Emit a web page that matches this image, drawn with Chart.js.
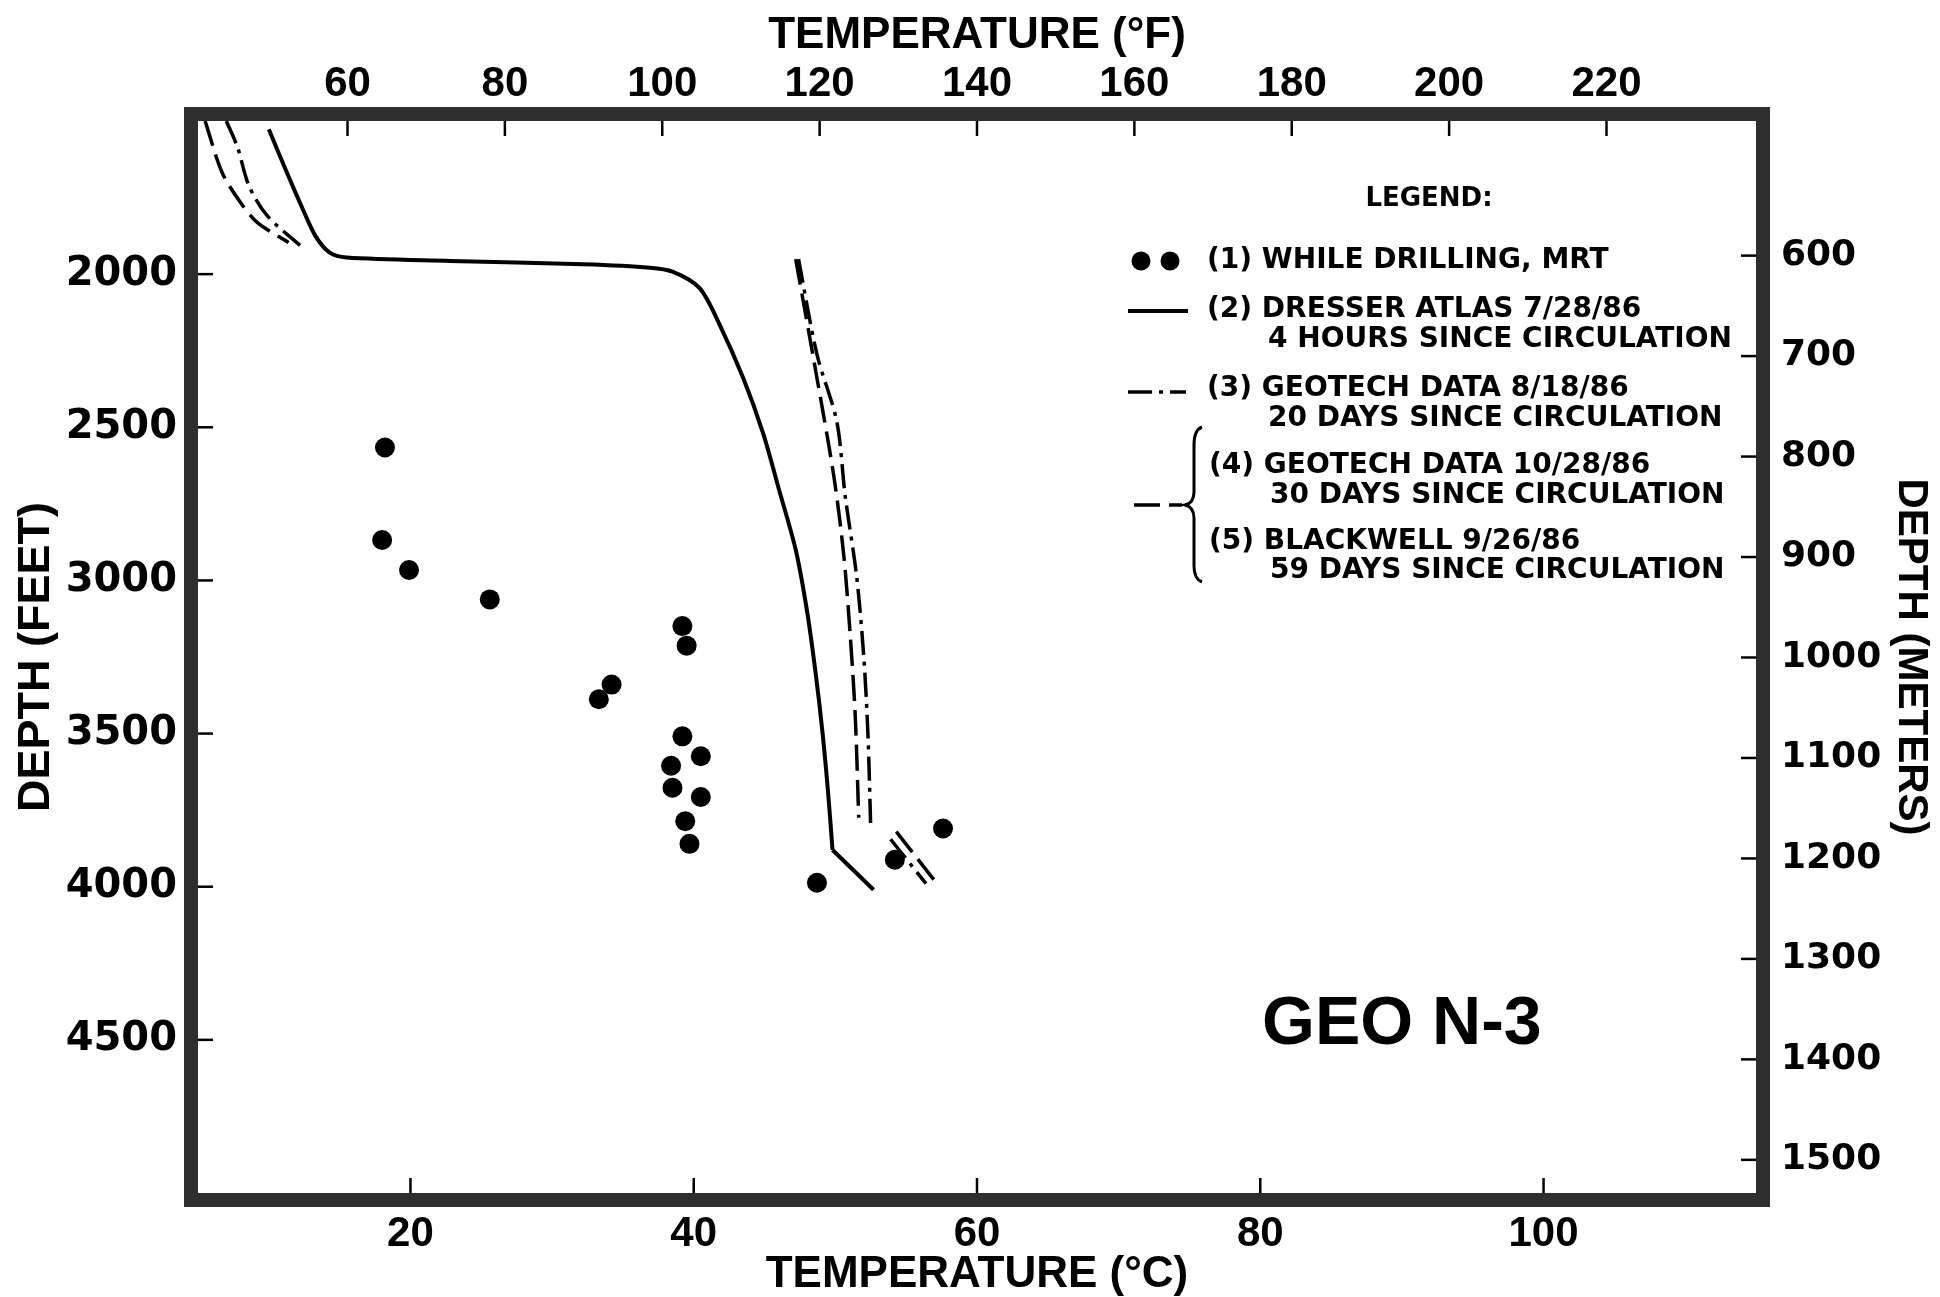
<!DOCTYPE html>
<html>
<head>
<meta charset="utf-8">
<title>GEO N-3 temperature logs</title>
<script src="https://cdn.jsdelivr.net/npm/chart.js@4.4.1/dist/chart.umd.min.js"></script>
<style>
  html, body { margin: 0; padding: 0; background: #fff; }
  #wrap { width: 1940px; height: 1297px; }
</style>
</head>
<body>
<div id="wrap"><canvas id="chart" width="1940" height="1297"></canvas></div>
<script>
// axes
const tempRangeC = [5, 115];
const depthRangeFt = [1500, 5000];
const depthRangeM = [466, 1533];
const tempTicksC = [20, 40, 60, 80, 100];
const tempTicksF = [60, 80, 100, 120, 140, 160, 180, 200, 220];
const depthTicksFt = [2000, 2500, 3000, 3500, 4000, 4500];
const depthTicksM = [600, 700, 800, 900, 1000, 1100, 1200, 1300, 1400, 1500];

// (1) while drilling, MRT
const drillTempC = [18.2, 18.0, 19.9, 25.6, 39.2, 39.5, 34.2, 33.3, 39.2, 40.5, 38.4, 38.5, 40.5, 39.4, 39.7, 48.7, 54.2, 57.6];
const drillDepthFt = [2566, 2868, 2966, 3062, 3149, 3213, 3340, 3388, 3509, 3574, 3605, 3677, 3707, 3786, 3860, 3987, 3912, 3810];

// (2) Dresser Atlas 7/28/86 (curve, then the last straight piece)
const dresserTempC = [10.0, 11.2, 12.4, 13.3, 14.3, 15.5, 22.8, 32.2, 36.9, 38.5, 40.4, 41.8, 43.5, 44.9, 46.0, 47.2, 48.0, 48.6, 49.1, 49.5, 49.8];
const dresserDepthFt = [1527, 1660, 1788, 1876, 1930, 1946, 1957, 1968, 1979, 1992, 2045, 2162, 2340, 2520, 2700, 2900, 3100, 3300, 3500, 3700, 3880];
const dresserTailC = [49.8, 52.7];
const dresserTailFt = [3880, 4010];

// (3) Geotech 8/18/86 (three drawn pieces)
const geo818TopC = [7.0, 7.8, 8.6, 9.9, 12.2];
const geo818TopFt = [1500, 1587, 1712, 1810, 1906];
const geo818MainC = [47.4, 48.7, 50.1, 50.7, 51.5, 52.0, 52.3, 52.5];
const geo818MainFt = [1951, 2262, 2481, 2727, 2986, 3245, 3503, 3814];
const geo818TailC = [53.9, 56.4];
const geo818TailFt = [3845, 3990];

// (4)/(5) Geotech 10/28/86 and Blackwell 9/26/86
const geo1028TopC = [5.5, 6.7, 8.0, 9.2, 11.4];
const geo1028TopFt = [1500, 1668, 1766, 1832, 1897];
const geo1028MainC = [47.2, 48.7, 49.9, 50.6, 51.05, 51.4, 51.65];
const geo1028MainFt = [1951, 2339, 2662, 2921, 3180, 3439, 3775];
const geo1028TailC = [54.3, 57.2];
const geo1028TailFt = [3820, 3992];

const pts = (xs, ys) => xs.map((x, i) => ({ x: x, y: ys[i] }));

const solid = [];
const dashDot = [24, 7, 4, 7];
const dashed = [26, 9];

const lineSet = (label, xs, ys, dash, width, tension) => ({
  label: label,
  data: pts(xs, ys),
  showLine: true,
  borderColor: '#000',
  borderWidth: width,
  borderDash: dash,
  pointRadius: 0,
  tension: tension
});

const wideFont = '"DejaVu Sans", Verdana, sans-serif';
const plainFont = '"Liberation Sans", Arial, sans-serif';

// frame, inward ticks, legend and well name
const decorPlugin = {
  id: 'decor',
  afterDatasetsDraw(chart) {
    const ctx = chart.ctx;
    const a = chart.chartArea;
    ctx.save();
    ctx.strokeStyle = '#2e2e2e';
    ctx.lineWidth = 14;
    ctx.strokeRect(a.left - 7, a.top - 7, a.right - a.left + 14, a.bottom - a.top + 14);

    ctx.strokeStyle = '#000';
    ctx.lineWidth = 2.5;
    const tl = 15;
    Object.values(chart.scales).forEach(s => {
      s.ticks.forEach(t => {
        const p = s.getPixelForValue(t.value);
        ctx.beginPath();
        if (s.position === 'bottom') { ctx.moveTo(p, a.bottom); ctx.lineTo(p, a.bottom - tl); }
        if (s.position === 'top') { ctx.moveTo(p, a.top); ctx.lineTo(p, a.top + tl); }
        if (s.position === 'left') { ctx.moveTo(a.left, p); ctx.lineTo(a.left + tl, p); }
        if (s.position === 'right') { ctx.moveTo(a.right, p); ctx.lineTo(a.right - tl, p); }
        ctx.stroke();
      });
    });
    ctx.restore();
  },
  afterDraw(chart) {
    const ctx = chart.ctx;
    const ds = chart.data.datasets;
    ctx.save();
    ctx.fillStyle = '#000';
    ctx.strokeStyle = '#000';
    ctx.textBaseline = 'middle';

    ctx.font = 'bold 26px ' + wideFont;
    ctx.textAlign = 'center';
    ctx.fillText('LEGEND:', 1429, 199);

    ctx.textAlign = 'left';
    ctx.font = 'bold 28px ' + wideFont;
    const rows = [
      ['(1) WHILE DRILLING, MRT', 1207, 261],
      ['(2) DRESSER ATLAS 7/28/86', 1207, 310],
      ['4 HOURS SINCE CIRCULATION', 1268, 340],
      ['(3) GEOTECH DATA 8/18/86', 1207, 389],
      ['20 DAYS SINCE CIRCULATION', 1268, 419],
      ['(4) GEOTECH DATA 10/28/86', 1209, 466],
      ['30 DAYS SINCE CIRCULATION', 1270, 496],
      ['(5) BLACKWELL 9/26/86', 1209, 542],
      ['59 DAYS SINCE CIRCULATION', 1270, 571]
    ];
    rows.forEach(r => ctx.fillText(r[0], r[1], r[2]));

    // symbols
    [1141, 1170].forEach(x => {
      ctx.beginPath();
      ctx.arc(x, 261, 9.5, 0, Math.PI * 2);
      ctx.fill();
    });
    const sample = (d, x0, x1, y) => {
      ctx.beginPath();
      ctx.lineWidth = d.borderWidth;
      ctx.setLineDash(d.borderDash || []);
      ctx.moveTo(x0, y);
      ctx.lineTo(x1, y);
      ctx.stroke();
    };
    sample(ds[1], 1128, 1188, 311);
    sample(ds[3], 1128, 1186, 392);
    sample(ds[6], 1134, 1182, 505);
    ctx.setLineDash([]);

    // brace grouping (4) and (5)
    ctx.lineWidth = 3;
    ctx.beginPath();
    ctx.moveTo(1202, 427);
    ctx.quadraticCurveTo(1194, 430, 1194, 445);
    ctx.lineTo(1194, 492);
    ctx.quadraticCurveTo(1194, 503, 1185, 505);
    ctx.quadraticCurveTo(1194, 507, 1194, 518);
    ctx.lineTo(1194, 566);
    ctx.quadraticCurveTo(1194, 579, 1202, 582);
    ctx.stroke();

    ctx.font = 'bold 68px ' + plainFont;
    ctx.fillText('GEO N-3', 1262, 1025);
    ctx.restore();
  }
};

const tickFontWide = size => ({ family: wideFont, size: size, weight: 'bold', lineHeight: 1 });
const tickFontPlain = size => ({ family: plainFont, size: size, weight: 'bold', lineHeight: 1 });
const setTicks = list => scale => { scale.ticks = list.map(v => ({ value: v })); };
const noGrid = { display: false, drawTicks: false, tickLength: 0 };

new Chart(document.getElementById('chart'), {
  type: 'scatter',
  data: {
    datasets: [
      {
        label: '(1) WHILE DRILLING, MRT',
        data: pts(drillTempC, drillDepthFt),
        showLine: false,
        pointRadius: 10,
        pointBackgroundColor: '#000',
        pointBorderWidth: 0
      },
      lineSet('(2) DRESSER ATLAS 7/28/86', dresserTempC, dresserDepthFt, solid, 4, 0.3),
      lineSet('(2) DRESSER ATLAS 7/28/86', dresserTailC, dresserTailFt, solid, 4, 0),
      lineSet('(3) GEOTECH DATA 8/18/86', geo818TopC, geo818TopFt, dashDot, 3.5, 0.3),
      lineSet('(3) GEOTECH DATA 8/18/86', geo818MainC, geo818MainFt, dashDot, 3.5, 0.3),
      lineSet('(3) GEOTECH DATA 8/18/86', geo818TailC, geo818TailFt, dashDot, 3.5, 0),
      lineSet('(4)/(5) GEOTECH 10/28/86, BLACKWELL 9/26/86', geo1028TopC, geo1028TopFt, dashed, 3.5, 0.3),
      lineSet('(4)/(5) GEOTECH 10/28/86, BLACKWELL 9/26/86', geo1028MainC, geo1028MainFt, dashed, 3.5, 0.3),
      lineSet('(4)/(5) GEOTECH 10/28/86, BLACKWELL 9/26/86', geo1028TailC, geo1028TailFt, dashed, 3.5, 0)
    ]
  },
  options: {
    responsive: false,
    maintainAspectRatio: false,
    devicePixelRatio: 1,
    animation: false,
    layout: { padding: 0 },
    plugins: { legend: { display: false }, tooltip: { enabled: false } },
    scales: {
      x: {
        type: 'linear', position: 'bottom',
        min: tempRangeC[0], max: tempRangeC[1],
        afterBuildTicks: setTicks(tempTicksC),
        afterFit: s => { s.height = 104; },
        grid: noGrid, border: { display: false },
        ticks: { color: '#000', font: tickFontPlain(42), padding: 20, maxRotation: 0, autoSkip: false, callback: v => String(v) },
        title: { display: true, text: 'TEMPERATURE (°C)', color: '#000', font: tickFontPlain(44), padding: { top: 0, bottom: 0 } }
      },
      x2: {
        type: 'linear', position: 'top',
        min: tempRangeC[0] * 1.8 + 32, max: tempRangeC[1] * 1.8 + 32,
        afterBuildTicks: setTicks(tempTicksF),
        afterFit: s => { s.height = 121; },
        grid: noGrid, border: { display: false },
        ticks: { color: '#000', font: tickFontPlain(42), padding: 16, maxRotation: 0, autoSkip: false, callback: v => String(v) },
        title: { display: true, text: 'TEMPERATURE (°F)', color: '#000', font: tickFontPlain(44), padding: { top: 14, bottom: 0 } }
      },
      y: {
        type: 'linear', position: 'left', reverse: true,
        min: depthRangeFt[0], max: depthRangeFt[1],
        afterBuildTicks: setTicks(depthTicksFt),
        afterFit: s => { s.width = 198; },
        grid: noGrid, border: { display: false },
        ticks: { color: '#000', font: tickFontWide(40), padding: 21, autoSkip: false, callback: v => String(v) },
        title: { display: true, text: 'DEPTH (FEET)', color: '#000', font: tickFontPlain(45), padding: { top: 14, bottom: 0 } }
      },
      y2: {
        type: 'linear', position: 'right', reverse: true,
        min: depthRangeM[0], max: depthRangeM[1],
        afterBuildTicks: setTicks(depthTicksM),
        afterFit: s => { s.width = 184; },
        grid: noGrid, border: { display: false },
        ticks: { color: '#000', font: tickFontWide(36), padding: 25, autoSkip: false, callback: v => String(v) },
        title: { display: true, text: 'DEPTH (METERS)', color: '#000', font: tickFontPlain(42), padding: { top: 8, bottom: 0 } }
      }
    }
  },
  plugins: [decorPlugin]
});
</script>
</body>
</html>
